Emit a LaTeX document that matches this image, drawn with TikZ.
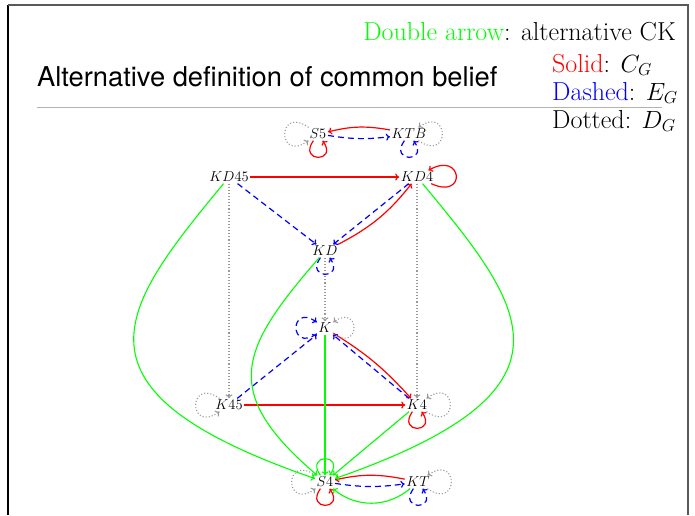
\documentclass[tikz,border=0pt]{standalone}
\usepackage{fontspec}
\newfontfamily\titlefont{TeX Gyre Heros}
\usetikzlibrary{arrows.meta}

\begin{document}
\begin{tikzpicture}[
    x=1pt, y=1pt,
    >={To[length=4pt, width=7pt]},
    logic/.style={font=\fontsize{13.5}{15}\selectfont, inner sep=1.5pt},
    cg/.style={->, red, line width=1.2pt},
    eg/.style={->, blue, line width=1.2pt, dash pattern=on 6pt off 4pt},
    dg/.style={->, gray!80, line width=1.1pt, dotted},
    ck/.style={->, green, line width=1.1pt},
    every loop/.style={min distance=15pt, looseness=7.5},
    lbelow/.style={out=-125, in=-55, loop},
    lleft/.style={out=145, in=215, looseness=3, min distance=10pt, loop},
    lright/.style={out=-35, in=35, looseness=3, min distance=10pt, loop},
    labove/.style={out=125, in=55, loop},
    legend/.style={font=\fontsize{26}{28}\selectfont, inner sep=0pt}
  ]
  \useasboundingbox (0,0) rectangle (695,-515);
  % slide frame
  \draw[black, line width=1.5pt] (8,-515) -- (8,-5);
  \draw[gray!70!black, line width=1.5pt] (8,-5) -- (688,-5) -- (688,-515);
  % title and legend
  \node[anchor=base west, inner sep=0pt, font=\titlefont\fontsize{27.3}{30}\selectfont] (title) at (37,-86) {Alternative definition of common belief};
  \draw[gray!60, line width=1pt] (37,-107) -- (662,-107);
  \node[legend, anchor=base east] (lck) at (676,-40) {\textcolor{green}{Double arrow}: alternative CK};
  \node[legend, anchor=base west] (lcg) at (552,-72) {\textcolor{red}{Solid}: $C_G$};
  \node[legend, anchor=base west] (leg) at (552,-100) {\textcolor{blue}{Dashed}: $E_G$};
  \node[legend, anchor=base west] (ldg) at (552,-128) {Dotted: $D_G$};

  % the logics
  \node[logic] (s5)   at (318,-134) {$S5$};
  \node[logic] (ktb)  at (409,-134) {$KTB$};
  \node[logic] (kd45) at (229,-177) {$KD45$};
  \node[logic] (kd4)  at (417,-177) {$KD4$};
  \node[logic] (kd)   at (325,-251) {$KD$};
  \node[logic] (k)    at (325,-328) {$K$};
  \node[logic] (k45)  at (229,-405) {$K45$};
  \node[logic] (k4)   at (417,-405) {$K4$};
  \node[logic] (s4)   at (325,-482) {$S4$};
  \node[logic] (kt)   at (418,-482) {$KT$};

  % C_G
  \draw[cg] (ktb) to[bend right=12] (s5);
  \draw[cg] (kd45) -- (kd4);
  \draw[cg] (kd) to[bend right=12] (kd4);
  \draw[cg] (k) to[bend left=8] (k4);
  \draw[cg] (k45) -- (k4);
  \draw[cg] (kt) to[bend right=12] (s4);
  \path (s5) edge[cg, lbelow] (s5)
        (kd4) edge[cg, out=-25, in=30, looseness=2.5, min distance=8pt, loop] (kd4)
        (k4) edge[cg, lbelow] (k4)
        (s4) edge[cg, lbelow] (s4);

  % E_G
  \draw[eg] (s5) to[bend right=8] (ktb);
  \draw[eg] (kd45) -- (kd);
  \draw[eg] (kd4) -- (kd);
  \draw[eg] (k45) -- (k);
  \draw[eg] (k4) -- (k);
  \draw[eg] (s4) to[bend right=8] (kt);
  \path (ktb) edge[eg, lbelow] (ktb)
        (kd) edge[eg, lbelow] (kd)
        (k) edge[eg, out=215, in=145, looseness=3, min distance=10pt, loop] (k)
        (kt) edge[eg, lbelow] (kt);

  % D_G
  \draw[dg] (kd45) -- (k45);
  \draw[dg] (kd4) -- (k4);
  \draw[dg] (kd) -- (k);
  \path (s5) edge[dg, lleft] (s5)
        (ktb) edge[dg, lright] (ktb)
        (k) edge[dg, lright] (k)
        (k45) edge[dg, lleft] (k45)
        (k4) edge[dg, lright] (k4)
        (s4) edge[dg, lleft] (s4)
        (kt) edge[dg, lright] (kt);

  % alternative CK
  \draw[ck] (kd45) .. controls (120,-309) and (58,-390) .. (s4);
  \draw[ck] (kd4) .. controls (527,-309) and (589,-390) .. (s4);
  \draw[ck] (kd) .. controls (239,-350) and (220,-392) .. (s4);
  \draw[ck] (k) -- (s4);
  \draw[ck] (k4) -- (s4);
  \draw[ck] (kt) to[bend left=40] (s4);
  \path (s4) edge[ck, labove] (s4);
\end{tikzpicture}
\end{document}
